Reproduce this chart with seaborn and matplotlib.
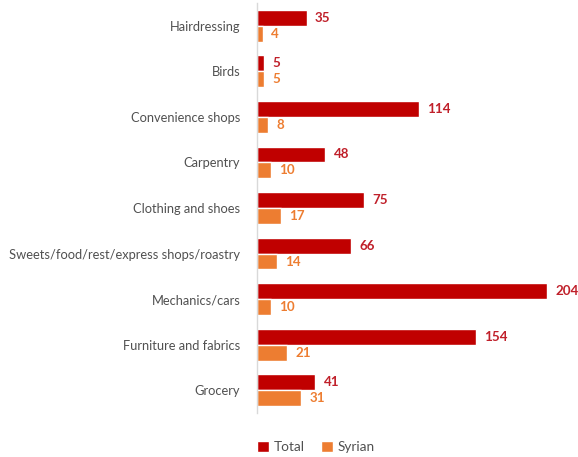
import matplotlib
matplotlib.use("Agg")
import matplotlib.pyplot as plt
import seaborn as sns
import pandas as pd

categories = ["Hairdressing", "Birds", "Convenience shops", "Carpentry", "Clothing and shoes",
              "Sweets/food/rest/express shops/roastry", "Mechanics/cars", "Furniture and fabrics", "Grocery"]
total = [35, 5, 114, 48, 75, 66, 204, 154, 41]
syrian = [4, 5, 8, 10, 17, 14, 10, 21, 31]
series = ["Total", "Syrian"]
colors = {"Total": "#C00000", "Syrian": "#ED7D31"}
label_colors = {"Total": "#C0202A", "Syrian": "#ED7D31"}

df = pd.DataFrame({
    "Category": categories * 2,
    "Value": total + syrian,
    "Series": ["Total"] * len(categories) + ["Syrian"] * len(categories),
})

sns.set_theme(style="white")
plt.rcParams["font.family"] = ["Lato", "DejaVu Sans"]

fig = plt.figure(figsize=(5.78, 4.57), dpi=100)
ax = fig.add_axes([257/578, 1 - 413/457, (547 - 257)/578, 410/457])
sns.barplot(data=df, y="Category", x="Value", hue="Series", order=categories,
            hue_order=series, palette=colors, width=0.7, ax=ax, orient="h",
            saturation=1, legend=True)

for cont, s in zip(ax.containers, series):
    ax.bar_label(cont, padding=6, color=label_colors[s], fontsize=9.6, fontweight="bold")
for t in ax.texts:
    t.set_clip_on(False)

ax.set_xlim(0, 204)
ax.set_xlabel("")
ax.set_ylabel("")
ax.set_xticks([])
ax.tick_params(axis="y", length=0, labelsize=9.3, colors="#505050", pad=12)
for sp in ["top", "right", "bottom"]:
    ax.spines[sp].set_visible(False)
ax.spines["left"].set_color("#D9D9D9")
ax.spines["left"].set_linewidth(1)

ax.legend(loc="center", bbox_to_anchor=(316/578, 1 - 447/457), bbox_transform=fig.transFigure,
          ncol=2, frameon=False, fontsize=9.8, handlelength=0.85, handleheight=0.85,
          handletextpad=0.35, columnspacing=1.2, labelcolor="#505050")

fig.savefig("out.png", dpi=100)
